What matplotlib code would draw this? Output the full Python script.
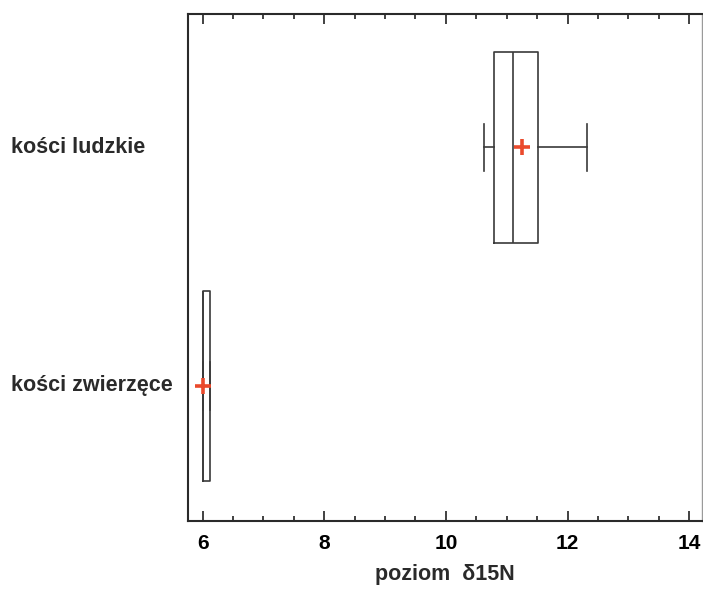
import matplotlib
matplotlib.use("Agg")
from matplotlib import pyplot as plt
from matplotlib import transforms

# data
groups = ["kości zwierzęce", "kości ludzkie"]
q1 = [6.00, 10.79]
med = [6.00, 11.10]
q3 = [6.12, 11.52]
whislo = [6.00, 10.63]
whishi = [6.12, 12.32]
means = [6.01, 11.25]

plt.rcParams['font.family'] = ['Liberation Sans', 'DejaVu Sans']
plt.rcParams['font.weight'] = 'bold'

fig = plt.figure(figsize=(7.03, 5.90), dpi=100)
ax = fig.add_axes([0.2674, 0.1169, 0.7312, 0.8594])

stats = []
for i, g in enumerate(groups):
    stats.append(dict(label=g, q1=q1[i], med=med[i], q3=q3[i],
                      whislo=whislo[i], whishi=whishi[i], mean=means[i], fliers=[]))

line = dict(color="#3a3a3a", linewidth=1.2)
ax.bxp(stats, positions=[1, 2], widths=0.8, capwidths=0.2, orientation='horizontal',
       showmeans=True, showfliers=False,
       boxprops=line, whiskerprops=line, capprops=line, medianprops=line,
       meanprops=dict(marker='P', markersize=0) )

# red plus for the means
ax.plot(means, [1, 2], linestyle='none', marker='+', markersize=11,
        markeredgewidth=2.6, color="#ea4a2c", zorder=5)

ax.set_xlim(5.76, 14.21)
ax.set_ylim(0.433, 2.56)
ax.set_xticks([6, 8, 10, 12, 14])
ax.set_xticks([x / 2 for x in range(12, 29)], minor=True)
ax.tick_params(axis='x', which='both', direction='in', top=True, bottom=True,
               labelsize=15, pad=9, width=1.3, color="#333333")
ax.tick_params(axis='x', which='major', length=7)
ax.tick_params(axis='x', which='minor', length=3.5)
ax.set_yticks([])

for s in ['left', 'bottom', 'top']:
    ax.spines[s].set_linewidth(1.5)
    ax.spines[s].set_color("#2a2a2a")
ax.spines['right'].set_linewidth(1.0)
ax.spines['right'].set_color("#9a9a9a")

ax.set_xlabel("poziom  δ15N", fontsize=15.5, fontweight='bold', color="#2a2a2a", labelpad=8)

tr = transforms.blended_transform_factory(fig.transFigure, ax.transData)
for i, g in enumerate(groups):
    ax.text(11 / 703, i + 1, g, transform=tr, ha='left', va='center',
            fontsize=15.5, fontweight='bold', color="#2a2a2a")

fig.savefig("out.png", dpi=100)
